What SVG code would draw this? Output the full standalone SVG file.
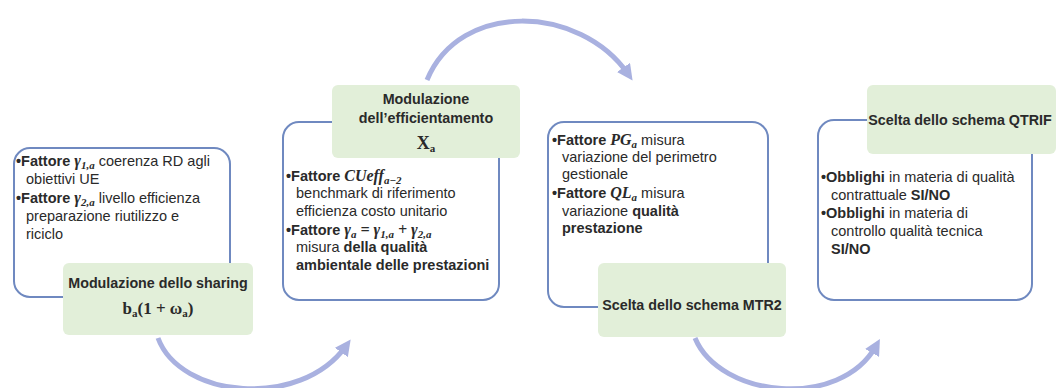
<svg xmlns="http://www.w3.org/2000/svg" width="1056" height="388" viewBox="0 0 1056 388">
<defs>
<marker id="ah" viewBox="0 0 10 10" refX="5" refY="5" markerWidth="3.2" markerHeight="3.2" orient="auto" markerUnits="strokeWidth">
<path d="M0,0 L10,5 L0,10 z" fill="#a9b1e0"/>
</marker>
<style>
.box{fill:#fff;stroke:#6f89c0;stroke-width:2}
.lab{fill:#e2efd9;stroke:none}
.t{font-family:"Liberation Sans",Arial,sans-serif;font-size:14.5px;fill:#2a2a2a}
.b{font-weight:bold}
.m{font-family:"Liberation Serif","Times New Roman",serif;font-style:italic;font-weight:bold}
.mb{font-family:"Liberation Serif","Times New Roman",serif;font-weight:bold}
.h{font-family:"Liberation Sans",Arial,sans-serif;font-size:14.3px;font-weight:bold;fill:#2a2a2a;text-anchor:middle}
.arr{fill:none;stroke:#a9b1e0;stroke-width:5;marker-end:url(#ah)}
</style>
</defs>
<rect width="1056" height="388" fill="#fff"/>
<g id="connectors">
<path class="arr" d="M158,338 C180,398 300,410 346,346"/>
<path class="arr" d="M427,80 C460,0 580,5 628,74"/>
<path class="arr" d="M695,338 C720,398 840,410 876,346"/>
</g>
<g id="node1">
<rect class="box" x="14" y="148" width="216" height="149" rx="16"/>
<rect class="lab" x="63" y="263" width="190" height="72" rx="6"/>
<text class="t" x="16" y="166"><tspan class="b">•Fattore </tspan><tspan class="m" font-size="16">γ</tspan><tspan class="m" font-size="11" dy="3">1,a</tspan><tspan dy="-3"> coerenza RD agli</tspan></text>
<text class="t" x="26" y="184">obiettivi UE</text>
<text class="t" x="16" y="203"><tspan class="b">•Fattore </tspan><tspan class="m" font-size="16">γ</tspan><tspan class="m" font-size="11" dy="3">2,a</tspan><tspan dy="-3"> livello efficienza</tspan></text>
<text class="t" x="26" y="221">preparazione riutilizzo e</text>
<text class="t" x="26" y="239">riciclo</text>
<text class="h" x="158" y="288">Modulazione dello sharing</text>
<text class="t" x="158" y="314" text-anchor="middle"><tspan class="mb" font-size="17">b</tspan><tspan class="mb" font-size="11" dy="3">a</tspan><tspan class="mb" font-size="17" dy="-3">(1 + ω</tspan><tspan class="mb" font-size="11" dy="3">a</tspan><tspan class="mb" font-size="17" dy="-3">)</tspan></text>
</g>
<g id="node2">
<rect class="box" x="283" y="122" width="216" height="178" rx="16"/>
<rect class="lab" x="332" y="85" width="188" height="73" rx="6"/>
<text class="h" x="426" y="104">Modulazione</text>
<text class="h" x="426" y="123">dell’efficientamento</text>
<text class="t" x="426" y="149" text-anchor="middle"><tspan class="mb" font-size="18">X</tspan><tspan class="mb" font-size="11" dy="3">a</tspan></text>
<text class="t" x="286" y="181"><tspan class="b">•Fattore </tspan><tspan class="m" font-size="16">CUeff</tspan><tspan class="m" font-size="11" dy="3">a−2</tspan></text>
<text class="t" x="296" y="198">benchmark di riferimento</text>
<text class="t" x="296" y="216">efficienza costo unitario</text>
<text class="t" x="286" y="235"><tspan class="b">•Fattore </tspan><tspan class="m" font-size="16">γ</tspan><tspan class="m" font-size="11" dy="3">a</tspan><tspan class="m" font-size="16" dy="-3"> = γ</tspan><tspan class="m" font-size="11" dy="3">1,a</tspan><tspan class="m" font-size="16" dy="-3"> + γ</tspan><tspan class="m" font-size="11" dy="3">2,a</tspan></text>
<text class="t" x="296" y="252">misura <tspan class="b">della qualità</tspan></text>
<text class="t b" x="296" y="270">ambientale delle prestazioni</text>
</g>
<g id="node3">
<rect class="box" x="548" y="122" width="220" height="185" rx="16"/>
<rect class="lab" x="598" y="263" width="188" height="74" rx="6"/>
<text class="t" x="552" y="145"><tspan class="b">•Fattore </tspan><tspan class="m" font-size="16">PG</tspan><tspan class="m" font-size="11" dy="3">a</tspan><tspan dy="-3"> misura</tspan></text>
<text class="t" x="562" y="162">variazione del perimetro</text>
<text class="t" x="562" y="179">gestionale</text>
<text class="t" x="552" y="198"><tspan class="b">•Fattore </tspan><tspan class="m" font-size="16">QL</tspan><tspan class="m" font-size="11" dy="3">a</tspan><tspan dy="-3"> misura</tspan></text>
<text class="t" x="562" y="216">variazione <tspan class="b">qualità</tspan></text>
<text class="t b" x="562" y="233">prestazione</text>
<text class="h" x="692" y="310">Scelta dello schema MTR2</text>
</g>
<g id="node4">
<rect class="box" x="818" y="120" width="214" height="180" rx="16"/>
<rect class="lab" x="867" y="85" width="189" height="69" rx="6"/>
<text class="h" x="960" y="125">Scelta dello schema QTRIF</text>
<text class="t" x="821" y="182"><tspan class="b">•Obblighi</tspan> in materia di qualità</text>
<text class="t" x="831" y="200">contrattuale <tspan class="b">SI/NO</tspan></text>
<text class="t" x="821" y="218"><tspan class="b">•Obblighi</tspan> in materia di</text>
<text class="t" x="831" y="236">controllo qualità tecnica</text>
<text class="t b" x="831" y="254">SI/NO</text>
</g>
</svg>
